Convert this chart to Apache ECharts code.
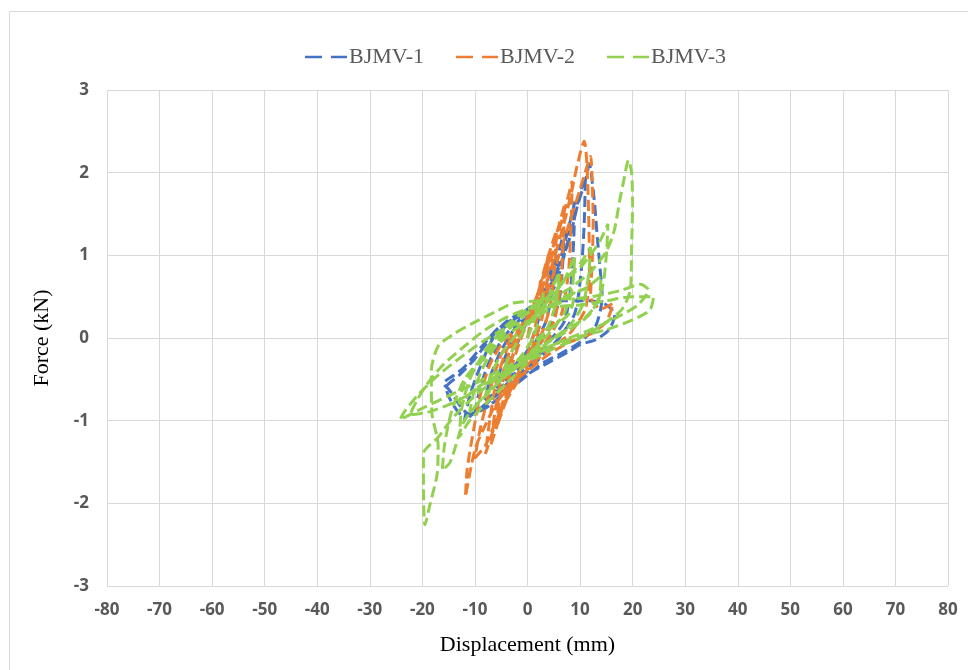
<!DOCTYPE html>
<html>
<head>
<meta charset="utf-8">
<script src="https://cdn.jsdelivr.net/npm/echarts@6/dist/echarts.min.js"></script>
<style>
  html, body { margin: 0; padding: 0; background: #fff; }
  #chart { width: 968px; height: 670px; }
</style>
</head>
<body>
<div id="chart"></div>
<script>
// axis ticks
const xTicks = [-80, 80, 10];
const yTicks = [-3, 3, 1];
const seriesNames = ['BJMV-1', 'BJMV-2', 'BJMV-3'];

// displacement (mm), force (kN) pairs
const bjmv1 = [
  [0,0],[1,0.2],[2,0.35],[3,0.6],[2.6,0.35],[1.5,0.1],[0,-0.15],[-2,-0.3],[-4,-0.45],[-3,-0.25],[-1.5,0],[0,0.2],
  [2,0.35],[3.5,0.6],[5,0.95],[4.6,0.55],[3.5,0.2],[1.5,-0.05],[0,-0.25],[-3,-0.45],[-6,-0.6],[-5,-0.35],[-3,-0.05],[-1,0.15],[1,0.3],
  [3,0.45],[5,0.8],[6,1.05],[7,1.3],[6.7,0.9],[6,0.45],[4,0.1],[1,-0.2],[-2,-0.4],[-5,-0.6],[-8,-0.75],[-7,-0.45],[-5,-0.15],[-2,0.15],[1,0.3],
  [4,0.5],[6,0.9],[7.5,1.25],[9,1.65],[8.8,1.2],[8.2,0.6],[7,0.2],[4,-0.05],[1,-0.3],[-3,-0.5],[-7,-0.75],[-10,-0.9],[-9,-0.6],[-7,-0.25],[-4,0.05],[-1,0.25],[2,0.4],
  [5,0.6],[7,1.0],[9,1.5],[10,1.75],[11,1.95],[10.8,1.4],[10.2,0.8],[9,0.3],[6,0],[3,-0.2],[0,-0.4],[-4,-0.6],[-8,-0.8],[-12,-1.0],[-11,-0.7],[-9,-0.35],[-6.5,0],[-3,0.2],[0,0.35],[3,0.5],
  [6,0.85],[8,1.2],[9.5,1.6],[11,1.9],[11.8,2.1],[12.3,1.9],[12.8,1.6],[13.3,1.2],[13.8,0.85],[14.2,0.5],[13,0.15],[10,-0.05],[6,-0.2],[3,-0.3],[0,-0.45],[-4,-0.65],[-8,-0.85],[-12,-0.95],[-15.5,-0.6],[-13,-0.45],[-10,-0.25],[-7,0],[-4,0.2],[0,0.35],[4,0.45],
  [8,0.45],[12,0.45],[15,0.4],[16.6,0.28],[15.5,0.1],[13,-0.02],[10,-0.08],[8,-0.16],[4.5,-0.28],[0,-0.44],[-3.5,-0.62],[-7,-0.8],[-11,-0.92],[-15,-0.62],[-16,-0.55],[-14,-0.45],[-12,-0.35],[-8,-0.05],[-5,0.15],[0,0.3]
];

const bjmv2 = [
  [0,0],[1,0.3],[2,0.5],[2.5,0.7],[2.2,0.4],[1.2,0.05],[0,-0.2],[-2,-0.45],[-4,-0.7],[-3,-0.35],[-1.5,-0.05],[0,0.2],
  [1.5,0.45],[3,0.75],[4,1.0],[3.6,0.6],[2.8,0.25],[1,-0.1],[-1,-0.35],[-3,-0.6],[-5,-0.9],[-4,-0.5],[-2.5,-0.15],[-1,0.1],[0.5,0.3],
  [2,0.55],[3.5,0.9],[4.5,1.1],[5.5,1.3],[5.2,0.9],[4.5,0.45],[3,0.1],[1,-0.15],[-2,-0.45],[-4,-0.75],[-6,-1.1],[-5.2,-0.7],[-4,-0.35],[-2,0],[0,0.25],
  [2,0.5],[4,0.9],[5.5,1.25],[7,1.6],[6.8,1.15],[6.2,0.6],[5,0.2],[2,-0.1],[-1,-0.35],[-4,-0.7],[-5.5,-1.0],[-7,-1.3],[-6.2,-0.9],[-5,-0.5],[-3,-0.1],[0,0.2],
  [2,0.45],[4,0.85],[6,1.3],[7.5,1.65],[8.5,1.9],[8.3,1.4],[7.8,0.8],[6.5,0.3],[4,0],[1,-0.25],[-2,-0.5],[-5,-0.85],[-8,-1.4],[-7.2,-1.0],[-6,-0.55],[-4,-0.15],[-1,0.15],[1,0.3],
  [3,0.55],[5,0.95],[7,1.4],[8.5,1.8],[9.5,2.1],[10.8,2.38],[11.2,2.2],[11.5,1.8],[11.7,1.3],[11.8,0.8],[11,0.35],[8,0.05],[5,-0.1],[2,-0.25],[-1,-0.45],[-4,-0.75],[-6,-1.0],[-8,-1.3],[-10,-1.45],[-9,-1.1],[-7,-0.6],[-5,-0.2],[-2,0.1],[1,0.3],
  [4,0.6],[6,1.0],[8,1.4],[10,1.8],[11.2,2.05],[12,2.2],[12.3,1.9],[12.5,1.4],[12.3,0.9],[12,0.5],[14,0.35],[16.3,0.42],[15,0.2],[12,0.05],[8,-0.05],[4,-0.2],[0,-0.4],[-3,-0.55],[-6,-0.8],[-8,-1.05],[-10,-1.35],[-11.8,-1.92],[-11.5,-1.6],[-10.5,-1.2],[-9,-0.7],[-7,-0.3],[-4,0],[0,0.2]
];

const bjmv3 = [
  [0,0],[1.5,0.25],[3,0.55],[2.5,0.3],[1,0],[-1,-0.2],[-3,-0.35],[-5,-0.5],[-4,-0.3],[-2,-0.05],[0,0.15],
  [2,0.3],[4,0.5],[6,0.8],[5.5,0.45],[4,0.15],[1.5,-0.1],[-1,-0.3],[-4,-0.45],[-8,-0.7],[-7,-0.45],[-5,-0.2],[-2,0.05],[1,0.25],
  [4,0.45],[7,0.7],[9,1.0],[8.5,0.6],[7,0.3],[4,0.05],[1,-0.15],[-2,-0.35],[-6,-0.55],[-11,-0.9],[-10,-0.6],[-8,-0.3],[-5,0],[-2,0.2],[1,0.35],
  [4,0.5],[7,0.7],[10,0.9],[12,1.1],[11.6,0.75],[10.5,0.4],[8,0.15],[4,-0.05],[0,-0.3],[-4,-0.55],[-8,-0.8],[-11,-1.0],[-13,-1.2],[-12.5,-0.85],[-11,-0.5],[-8,-0.15],[-4,0.15],[0,0.35],
  [4,0.5],[8,0.75],[10,0.85],[12.5,1.05],[14,1.2],[15.3,1.38],[15,1.0],[14.2,0.6],[12,0.3],[8,0.1],[4,-0.05],[0,-0.25],[-4,-0.45],[-8,-0.7],[-12,-1.0],[-14.7,-1.5],[-16.2,-1.6],[-15.8,-1.3],[-14.5,-0.9],[-12,-0.5],[-8,-0.2],[-4,0.1],[0,0.3],
  [3,0.35],[7,0.5],[11,0.6],[14,0.75],[13.5,0.45],[11,0.25],[7,0.08],[3,-0.08],[-1,-0.25],[-5,-0.42],[-10,-0.62],[-13,-0.8],[-12,-0.55],[-9,-0.3],[-6,-0.1],[-2,0.12],[2,0.28],
  [4,0.45],[8,0.6],[12,0.8],[15,1.05],[16.5,1.3],[17.5,1.65],[18.3,1.9],[19.2,2.15],[19.8,2.0],[20,1.6],[19.8,1.1],[19.6,0.6],[18,0.35],[14,0.15],[10,0],[6,-0.1],[2,-0.22],[-2,-0.35],[-6,-0.5],[-10,-0.7],[-14,-0.95],[-17,-1.2],[-19.8,-1.4],[-19.8,-1.8],[-19.5,-2.26],[-18.5,-2.0],[-17.2,-1.65],[-17,-1.3],[-18.2,-0.9],[-18.3,-0.4],[-17,-0.1],[-14,0.05],[-10.4,0.18],[-6,0.32],[-2.8,0.42],[2,0.45],[6,0.47],[10,0.48],[14,0.52],[18,0.58],[21.5,0.65],[23,0.58],[21,0.4],[17,0.25],[12,0.1],[6,-0.05],[1,-0.22],[-4,-0.4],[-9,-0.6],[-14,-0.78],[-19,-0.9],[-22.4,-0.93],[-21,-0.75],[-19,-0.55],[-16,-0.32],[-12,-0.1],[-8,0.1],[-4,0.25],[0,0.35],[5,0.38],[10,0.4],[15,0.45],[20,0.5],[24,0.5],[23.3,0.34],[20,0.22],[15,0.1],[10,0.02],[5,-0.08],[0,-0.22],[-5,-0.38],[-10,-0.55],[-15,-0.7],[-20,-0.85],[-24.3,-0.99],[-23.5,-0.9],[-21,-0.7],[-17,-0.45],[-12,-0.2],[-7,0.02],[-3,0.15],[0,0.2],
  [6,0.42],[9,0.55],[8,0.3],[4,0.1],[0,-0.1]
];

const colors = ['#4472c4', '#ed7d31', '#92d050'];
const allData = [bjmv1, bjmv2, bjmv3];

const myChart = echarts.init(document.getElementById('chart'));

const labelStyle = {
    color: '#595959',
    fontSize: 17,
    fontWeight: 'bold',
    fontFamily: 'Open Sans'
};

const option = {
    animation: false,
    color: colors,
    graphic: [
        {
            type: 'rect',
            shape: { x: 9.5, y: 11.5, width: 1000, height: 700 },
            style: { fill: 'none', stroke: '#d9d9d9', lineWidth: 1 },
            silent: true
        }
    ],
    legend: {
        top: 41,
        left: 300,
        icon: 'path://M0,0H17V2.5H0Z M26,0H42V2.5H26Z',
        itemWidth: 42,
        itemHeight: 2.5,
        itemGap: 32,
        data: seriesNames,
        textStyle: {
            color: '#595959',
            fontSize: 22,
            fontFamily: 'Liberation Serif',
            padding: [0, 0, 0, -3]
        }
    },
    grid: {
        left: 107,
        right: 20,
        top: 90,
        bottom: 84
    },
    xAxis: {
        type: 'value',
        min: xTicks[0],
        max: xTicks[1],
        interval: xTicks[2],
        name: 'Displacement (mm)',
        nameLocation: 'middle',
        nameGap: 48,
        nameTextStyle: { color: '#000', fontSize: 22, fontFamily: 'Liberation Serif' },
        axisLine: { show: false },
        axisTick: { show: false },
        axisLabel: Object.assign({ margin: 16 }, labelStyle),
        splitLine: { lineStyle: { color: '#d9d9d9', width: 1 } }
    },
    yAxis: {
        type: 'value',
        min: yTicks[0],
        max: yTicks[1],
        interval: yTicks[2],
        name: 'Force (kN)',
        nameLocation: 'middle',
        nameGap: 54,
        nameTextStyle: { color: '#000', fontSize: 22, fontFamily: 'Liberation Serif' },
        axisLine: { show: false },
        axisTick: { show: false },
        axisLabel: Object.assign({ margin: 18 }, labelStyle),
        splitLine: { lineStyle: { color: '#d9d9d9', width: 1 } }
    },
    series: seriesNames.map((name, i) => ({
        name: name,
        type: 'line',
        data: allData[i],
        showSymbol: false,
        smooth: 0.25,
        lineStyle: {
            color: colors[i],
            width: 3,
            type: [11, 5]
        },
        itemStyle: { color: colors[i] }
    }))
};

myChart.setOption(option);
</script>
</body>
</html>
